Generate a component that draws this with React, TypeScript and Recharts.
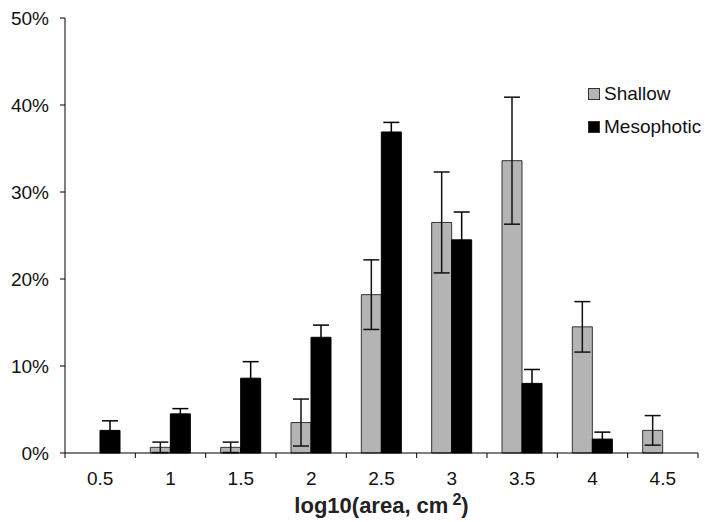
import { Bar, BarChart, ErrorBar, XAxis, YAxis } from "recharts"

const CATS = ["0.5", "1", "1.5", "2", "2.5", "3", "3.5", "4", "4.5"]
const SHALLOW = [0, 0.65, 0.65, 3.5, 18.2, 26.5, 33.6, 14.5, 2.6]
const SHALLOW_ERR = [null, 0.6, 0.6, 2.7, 4.0, 5.8, 7.3, 2.9, 1.7]
const MESO = [2.6, 4.5, 8.6, 13.3, 36.9, 24.5, 8.0, 1.6, 0]
const MESO_ERR = [1.1, 0.6, 1.9, 1.4, 1.1, 3.2, 1.6, 0.8, null]
const Y_TICKS = [0, 10, 20, 30, 40, 50]
const SERIES = ["Shallow", "Mesophotic"]

const data = CATS.map((c, i) => ({
  name: c,
  shallow: SHALLOW[i],
  shallowErr: SHALLOW_ERR[i],
  meso: MESO[i],
  mesoErr: MESO_ERR[i],
}))

const W = 716
const H = 522
const LEFT = 65
const RIGHT = 18
const BAND = (W - LEFT - RIGHT) / CATS.length
const FONT = "'Liberation Sans', Arial, sans-serif"
const GREY = "#b4b4b4"
const COLORS = [GREY, "#000"]

function XTick(props: any) {
  const { x, y, payload, index } = props
  const axisY = y - 19
  const last = index === CATS.length - 1
  return (
    <g>
      <line x1={x - BAND / 2} y1={axisY} x2={x - BAND / 2} y2={axisY + 5} stroke="#000" />
      {last && <line x1={x + BAND / 2} y1={axisY} x2={x + BAND / 2} y2={axisY + 5} stroke="#000" />}
      <text x={x} y={y} dy="0.71em" textAnchor="middle" fontSize={19} fontFamily={FONT} fill="#111">
        {payload.value}
      </text>
    </g>
  )
}

function XTitle(props: any) {
  const vb = props.viewBox
  const cx = vb.x + vb.width / 2
  return (
    <text x={cx} y={vb.y + 60} textAnchor="middle" fontSize={22} fontWeight="bold" fontFamily={FONT} fill="#222">
      log10(area, cm
      <tspan dx={4} dy={-8} fontSize={16}>2</tspan>
      <tspan dy={8}>)</tspan>
    </text>
  )
}

// legend drawn as an overlay so it doesn't eat into the plot area
function LegendBox() {
  return (
    <div
      style={{
        position: "absolute",
        left: 588,
        top: 77,
        fontFamily: FONT,
        fontSize: 19,
        color: "#111",
      }}
    >
      {SERIES.map((s, i) => (
        <div key={s} style={{ display: "flex", alignItems: "center", height: 33 }}>
          <span
            style={{
              display: "inline-block",
              width: 10,
              height: 10,
              background: COLORS[i],
              border: "1px solid #333",
              marginRight: 4,
            }}
          />
          <span>{s}</span>
        </div>
      ))}
    </div>
  )
}

export default function App() {
  return (
    <div style={{ position: "absolute", left: 0, top: 0, width: W, height: H, background: "#fff" }}>
      <BarChart
        width={W}
        height={H}
        data={data}
        margin={{ top: 18, right: RIGHT, bottom: 0, left: 0 }}
        barGap={0}
        barSize={20}
      >
        <XAxis
          dataKey="name"
          height={69}
          axisLine={{ stroke: "#000" }}
          tickLine={false}
          tickSize={5}
          tickMargin={14}
          tick={<XTick />}
          interval={0}
          label={{ content: <XTitle /> }}
        />
        <YAxis
          width={LEFT}
          domain={[0, 50]}
          ticks={Y_TICKS}
          tickFormatter={(v) => `${v}%`}
          axisLine={{ stroke: "#000" }}
          tickLine={{ stroke: "#000" }}
          tickSize={5}
          tickMargin={11}
          tick={{ fontSize: 19, fontFamily: FONT, fill: "#111" }}
        />
        <Bar dataKey="shallow" name={SERIES[0]} fill={COLORS[0]} stroke="#333" strokeWidth={1} isAnimationActive={false}>
          <ErrorBar dataKey="shallowErr" width={8} stroke="#111" strokeWidth={1.5} direction="y" />
        </Bar>
        <Bar dataKey="meso" name={SERIES[1]} fill={COLORS[1]} stroke="#000" strokeWidth={1} isAnimationActive={false}>
          <ErrorBar dataKey="mesoErr" width={8} stroke="#000" strokeWidth={1.5} direction="y" />
        </Bar>
      </BarChart>
      <LegendBox />
    </div>
  )
}
